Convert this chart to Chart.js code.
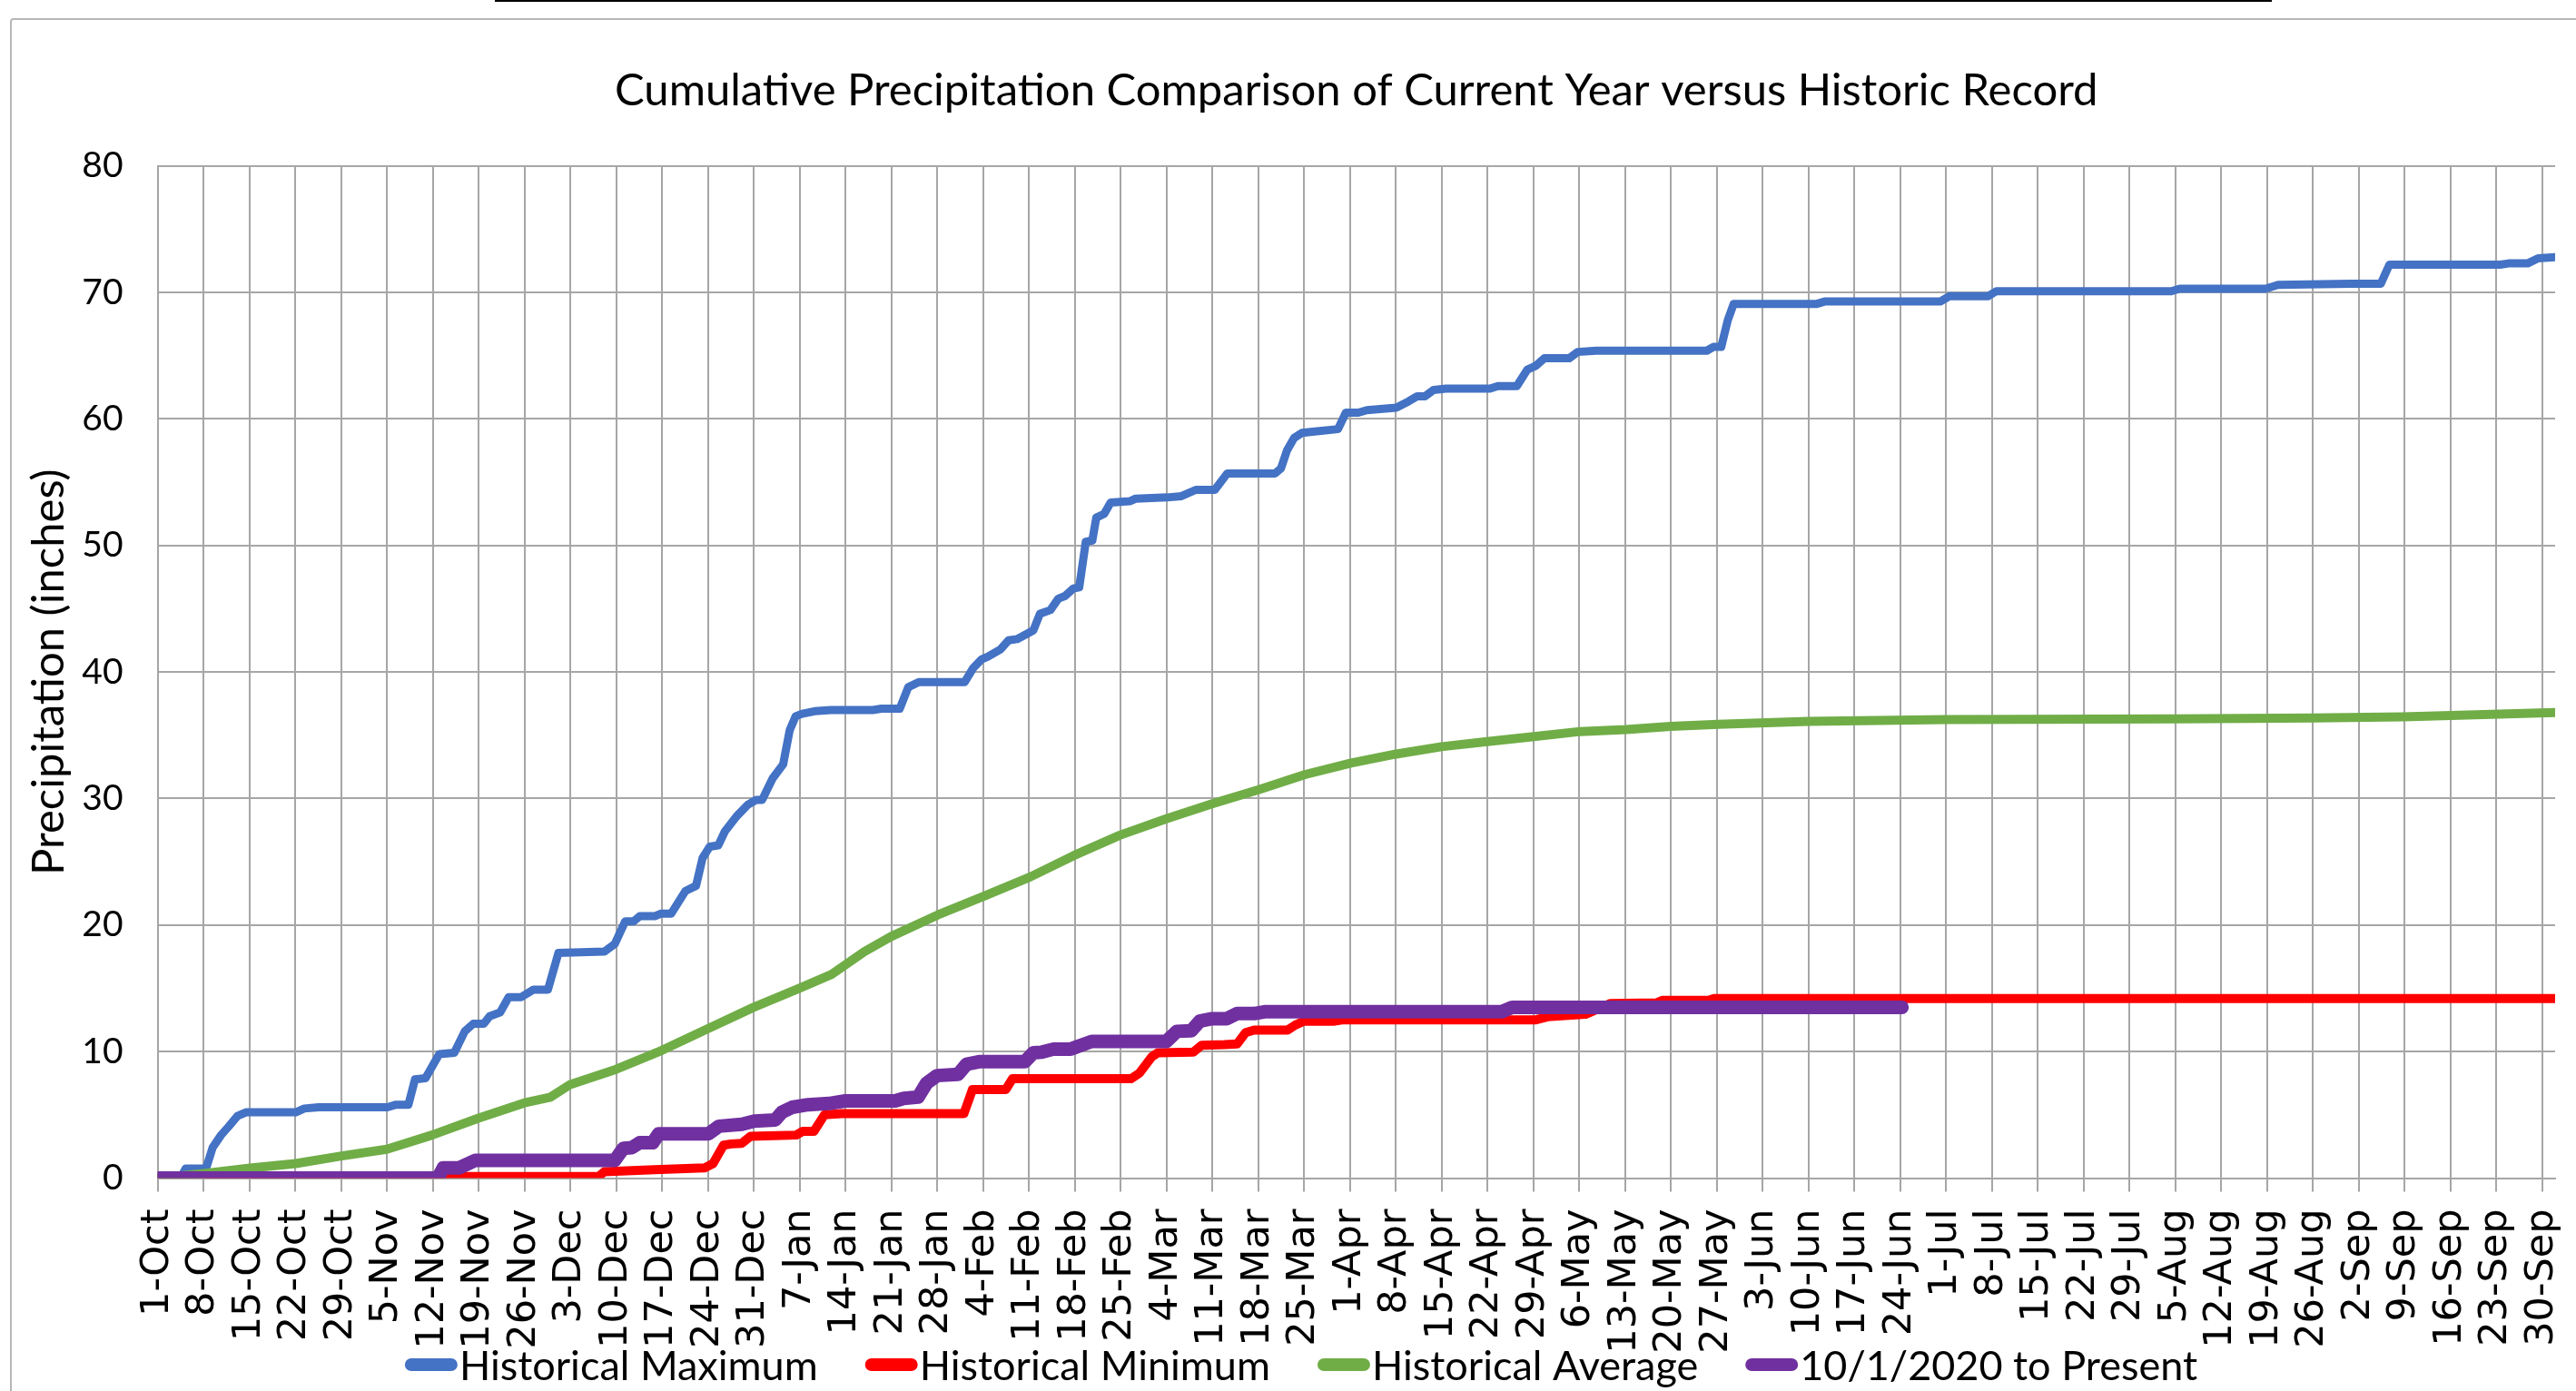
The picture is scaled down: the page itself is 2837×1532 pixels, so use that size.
<!DOCTYPE html>
<html>
<head>
<meta charset="utf-8">
<title>Cumulative Precipitation</title>
<script src="https://cdn.jsdelivr.net/npm/chart.js"></script>
<style>
  html, body { margin: 0; padding: 0; background: #fff; }
  #wrap { position: relative; width: 2837px; height: 1532px; overflow: hidden; background: #fff; }
  #frame { position: absolute; left: 11px; top: 20px; width: 3000px; height: 2000px; border: 2px solid #b7b7b7; border-radius: 4px; }
  #topline { position: absolute; left: 545px; top: 0; width: 1957px; height: 2px; background: #000; }
  #chart { position: absolute; left: 0; top: 0; }
</style>
</head>
<body>
<div id="wrap">
  <div id="topline"></div>
  <div id="frame"></div>
  <canvas id="chart" width="2837" height="1532"></canvas>
</div>
<script>
// weekly tick labels, one every 7 days starting at 1-Oct (day 0)
const tickLabels = [
  '1-Oct', '8-Oct', '15-Oct', '22-Oct', '29-Oct', '5-Nov', '12-Nov', '19-Nov', '26-Nov',
  '3-Dec', '10-Dec', '17-Dec', '24-Dec', '31-Dec', '7-Jan', '14-Jan', '21-Jan', '28-Jan',
  '4-Feb', '11-Feb', '18-Feb', '25-Feb', '4-Mar', '11-Mar', '18-Mar', '25-Mar', '1-Apr',
  '8-Apr', '15-Apr', '22-Apr', '29-Apr', '6-May', '13-May', '20-May', '27-May', '3-Jun',
  '10-Jun', '17-Jun', '24-Jun', '1-Jul', '8-Jul', '15-Jul', '22-Jul', '29-Jul', '5-Aug',
  '12-Aug', '19-Aug', '26-Aug', '2-Sep', '9-Sep', '16-Sep', '23-Sep', '30-Sep'
];

// [day since 1-Oct, inches]
const histMax = [
  [0, 0], [3.5, 0], [4.3, 0.75], [7.4, 0.75], [8.4, 2.4], [9.7, 3.4], [10.9, 4.1], [12.2, 4.9],
  [13.5, 5.2], [21.1, 5.2], [22.4, 5.5], [24.6, 5.6], [35.1, 5.6], [36.4, 5.8], [38.3, 5.8],
  [39.3, 7.8], [40.9, 7.9], [43, 9.8], [45.3, 9.9], [46.9, 11.6], [48.2, 12.2], [49.8, 12.2],
  [50.7, 12.8], [52.3, 13.1], [53.6, 14.3], [55.5, 14.3], [57.4, 14.9], [59.6, 14.9],
  [61.2, 17.8], [68.2, 17.9], [69.8, 18.5], [71.4, 20.3], [72.7, 20.3], [73.6, 20.7],
  [75.9, 20.7], [76.8, 20.9], [78.4, 20.9], [80.6, 22.7], [82.2, 23.1], [83.2, 25.3],
  [84.3, 26.2], [85.6, 26.3], [86.6, 27.4], [88.4, 28.6], [90.1, 29.5], [91.4, 29.9],
  [92.3, 29.9], [93.9, 31.6], [95.5, 32.7], [96.5, 35.4], [97.4, 36.5], [98.4, 36.7],
  [100.3, 36.9], [102.8, 37.0], [109.2, 37.0], [110.5, 37.1], [113.3, 37.1], [114.6, 38.8],
  [116.2, 39.2], [123.2, 39.2], [124.5, 40.3], [125.8, 41.0], [126.7, 41.2], [128.7, 41.8],
  [129.9, 42.5], [131.2, 42.6], [133.7, 43.3], [134.7, 44.6], [136.3, 44.9], [137.5, 45.8],
  [138.5, 46.0], [139.8, 46.6], [140.7, 46.7], [141.7, 50.3], [142.7, 50.4], [143.3, 52.2],
  [144.5, 52.5], [145.5, 53.4], [148.4, 53.5], [149.3, 53.7], [154.1, 53.8], [156.3, 53.9],
  [158.5, 54.4], [161.4, 54.4], [163.3, 55.7], [170.6, 55.7], [171.5, 56.1], [172.4, 57.5],
  [173.5, 58.5], [174.7, 58.9], [176.3, 59.0], [180.2, 59.2], [181.4, 60.5], [183.3, 60.5],
  [184.6, 60.7], [189.1, 60.9], [191, 61.4], [192.3, 61.8], [193.5, 61.8], [194.8, 62.3],
  [196.7, 62.4], [203.4, 62.4], [204.6, 62.6], [207.5, 62.6], [209.1, 63.9], [210.4, 64.2],
  [211.7, 64.8], [215.5, 64.8], [216.8, 65.3], [219.6, 65.4], [236.5, 65.4], [237.5, 65.7],
  [238.7, 65.7], [239.7, 67.8], [240.6, 69.1], [253.3, 69.1], [254.6, 69.3], [272.2, 69.3],
  [273.5, 69.7], [279.4, 69.7], [280.7, 70.1], [307.4, 70.1], [308.7, 70.3], [321.8, 70.3],
  [323.7, 70.6], [334.8, 70.7], [339.4, 70.7], [340.7, 72.2], [357.6, 72.2], [358.9, 72.3],
  [361.8, 72.3], [363.4, 72.7], [366, 72.8]
];

const histMin = [
  [0, 0], [44, 0], [46, 0.12], [67.3, 0.12], [68.2, 0.5], [75.9, 0.67], [83.5, 0.8],
  [84.8, 1.15], [86.4, 2.6], [87.6, 2.7], [89.2, 2.75], [90.5, 3.3], [97.5, 3.4], [98.5, 3.7],
  [100.2, 3.7], [101.8, 5.0], [104.4, 5.1], [123.1, 5.1], [124.4, 7.0], [129.5, 7.0],
  [130.5, 7.85], [148.6, 7.85], [149.9, 8.3], [151.8, 9.6], [152.7, 9.9], [158.1, 9.95],
  [159.4, 10.5], [162.9, 10.55], [164.8, 10.6], [166.1, 11.5], [167.4, 11.7], [172.5, 11.7],
  [173.7, 12.1], [175, 12.4], [179.5, 12.4], [180.8, 12.5], [210.3, 12.5], [212.2, 12.75],
  [218, 12.95], [221.8, 13.8], [228.8, 13.85], [229.7, 14.05], [236.7, 14.05], [237.7, 14.2],
  [366, 14.2]
];

const histAvg = [
  [0, 0], [7.1, 0.36], [14.1, 0.79], [21.1, 1.15], [28.1, 1.75], [35, 2.28], [41.9, 3.4],
  [49, 4.74], [56, 5.94], [60, 6.4], [63, 7.4], [70, 8.6], [77, 10.1], [84, 11.8], [91, 13.5],
  [98, 15.0], [102.9, 16.1], [107.9, 17.9], [112, 19.1], [119.1, 20.8], [126.2, 22.3],
  [133.2, 23.8], [139.9, 25.5], [146.9, 27.1], [154, 28.4], [161.1, 29.6], [168.1, 30.7],
  [175.2, 31.9], [182.2, 32.8], [188.9, 33.5], [196, 34.1], [203, 34.5], [210.1, 34.9],
  [217.2, 35.3], [224.2, 35.45], [231, 35.7], [238.2, 35.86], [252, 36.1], [273, 36.24],
  [308, 36.3], [329, 36.36], [342.8, 36.45], [366, 36.8]
];

const current = [
  [0, 0], [42.8, 0], [43.6, 0.8], [46, 0.8], [48.5, 1.4], [69.8, 1.4], [71.1, 2.35],
  [72.4, 2.4], [73.6, 2.8], [75.6, 2.8], [76.5, 3.5], [84.1, 3.5], [85.7, 4.1], [89.2, 4.25],
  [91.1, 4.5], [94.3, 4.6], [95.3, 5.2], [96.9, 5.6], [99.3, 5.8], [102.5, 5.9], [105, 6.1],
  [112.6, 6.1], [113.9, 6.3], [116.1, 6.4], [117.4, 7.5], [119, 8.1], [122.2, 8.2],
  [123.5, 9.0], [125.4, 9.2], [132.4, 9.2], [133.7, 9.9], [135, 9.95], [136.8, 10.2],
  [139.4, 10.2], [142.6, 10.8], [154, 10.8], [155.6, 11.6], [157.8, 11.65], [159.1, 12.4],
  [161, 12.6], [163.2, 12.6], [164.8, 13.0], [167.4, 13.0], [169, 13.15], [205.2, 13.15],
  [206.8, 13.5], [266.3, 13.5]
];

const gridColor = '#a6a6a6';

const toXY = arr => arr.map(([x, y]) => ({ x, y }));

// legend drawn by hand so the line sample sits right against its text
const lineLegend = {
  id: 'lineLegend',
  afterDraw(chart) {
    const ctx = chart.ctx;
    ctx.save();
    ctx.font = '45px Lato';
    ctx.textBaseline = 'middle';
    const items = chart.data.datasets.map(ds => ({
      text: ds.label, color: ds.borderColor, w: ctx.measureText(ds.label).width
    }));
    const sample = 58, gap = 2, space = 52;
    const total = items.reduce((s, it) => s + sample + gap + it.w + space, 0) - space;
    let x = 1433 - total / 2;
    const y = 1505;
    items.forEach(it => {
      ctx.strokeStyle = it.color;
      ctx.lineWidth = 14;
      ctx.lineCap = 'round';
      ctx.beginPath();
      ctx.moveTo(x + 7, y - 2);
      ctx.lineTo(x + sample - 7, y - 2);
      ctx.stroke();
      ctx.fillStyle = '#000';
      ctx.fillText(it.text, x + sample + gap, y);
      x += sample + gap + it.w + space;
    });
    ctx.restore();
  }
};

new Chart(document.getElementById('chart'), {
  type: 'line',
  data: {
    datasets: [
      { label: 'Historical Maximum', data: toXY(histMax), borderColor: '#4472C4', borderWidth: 9, order: 4 },
      { label: 'Historical Minimum', data: toXY(histMin), borderColor: '#FF0000', borderWidth: 10, order: 3 },
      { label: 'Historical Average', data: toXY(histAvg), borderColor: '#70AD47', borderWidth: 10, order: 2 },
      { label: '10/1/2020 to Present', data: toXY(current), borderColor: '#7030A0', borderWidth: 15, order: 1 }
    ]
  },
  options: {
    responsive: false,
    animation: false,
    layout: { padding: { left: 0, right: 23, top: 0, bottom: 0 } },
    elements: {
      point: { radius: 0 },
      line: { tension: 0, fill: false, borderCapStyle: 'round', borderJoinStyle: 'round' }
    },
    plugins: {
      legend: { display: false },
      tooltip: { enabled: false },
      title: {
        display: true,
        fullSize: false,
        text: 'Cumulative Precipitation Comparison of Current Year versus Historic Record',
        color: '#000',
        font: { family: 'Lato', size: 49, weight: 'normal' },
        padding: { top: 71, bottom: 53 }
      }
    },
    scales: {
      x: {
        type: 'linear',
        min: 0,
        max: 366,
        afterBuildTicks: s => { s.ticks = tickLabels.map((_, i) => ({ value: i * 7 })); },
        afterFit: s => { s.height = 234.5; s.paddingLeft = 0; s.paddingRight = 0; },
        ticks: {
          autoSkip: false,
          maxRotation: 90,
          minRotation: 90,
          padding: 19,
          color: '#000',
          font: { family: 'DejaVu Sans', size: 43 },
          callback: (v, i) => tickLabels[i]
        },
        grid: { color: gridColor, lineWidth: 2, tickLength: 15 },
        border: { color: gridColor, width: 2 }
      },
      y: {
        min: 0,
        max: 80,
        afterFit: s => { s.width = 173.5; },
        ticks: { stepSize: 10, padding: 38, color: '#000', font: { family: 'Lato', size: 39 } },
        grid: { color: gridColor, lineWidth: 2, drawTicks: false },
        border: { color: gridColor, width: 2 },
        title: {
          display: true,
          text: 'Precipitation (inches)',
          color: '#000',
          font: { family: 'Lato', size: 49 },
          padding: { top: 25, bottom: 0 }
        }
      }
    }
  },
  plugins: [lineLegend]
});
</script>
</body>
</html>
